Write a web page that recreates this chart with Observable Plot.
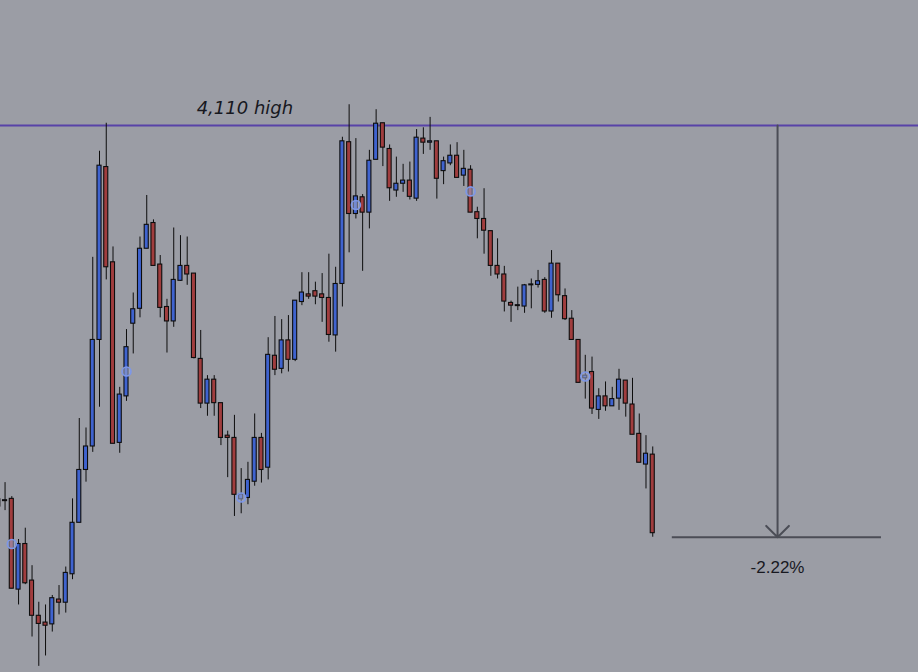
<!DOCTYPE html>
<html>
<head>
<meta charset="utf-8">
<script src="https://cdn.jsdelivr.net/npm/d3@7"></script>
<script src="https://cdn.jsdelivr.net/npm/@observablehq/plot@0.6"></script>
<style>
  html, body { margin: 0; padding: 0; background: #9b9da5; overflow: hidden; }
  #chart svg { display: block; }
</style>
</head>
<body>
<div id="chart"></div>
<script>
// Bar numbers (first bar is partly cut off at the left edge)
const bars = d3.range(-1, 97);

const opens = [4027.2,4026.8,4027.3,4007.2,4017.3,4009.2,4001.4,3999.9,3999.5,4005.0,4004.3,4010.6,4022.0,4033.7,4038.9,4062.5,4100.8,4079.7,4039.7,4050.0,
  4066.1,4069.4,4082.7,4088.4,4079.2,4069.8,4066.6,4075.6,4078.9,4077.2,4058.3,4048.4,4053.7,4048.5,4041.3,4040.8,4027.2,4027.5,4031.1,4040.8,
  4034.2,4059.0,4056.1,4062.4,4058.1,4070.9,4072.6,4073.3,4072.6,4071.8,4063.5,4074.9,4106.3,4090.4,4094.1,4090.7,4102.4,4110.5,4104.8,4095.6,
  4097.1,4097.8,4093.8,4107.1,4106.2,4106.5,4099.9,4101.6,4103.3,4098.9,4100.2,4090.8,4089.3,4086.6,4078.9,4077.0,4070.7,4070.0,4069.9,4074.6,
  4074.7,4075.8,4068.8,4079.4,4072.2,4067.2,4062.5,4054.0,4055.4,4047.0,4050.0,4047.8,4049.5,4053.5,4048.2,4041.7,4034.9,4037.1];

const highs = [4027.4,4030.9,4027.8,4018.3,4020.8,4012.5,4004.4,4003.8,4005.9,4008.1,4012.2,4027.3,4045.1,4043.0,4080.8,4104.3,4110.5,4083.1,4052.0,4064.8,
  4072.9,4085.3,4094.5,4089.1,4081.2,4071.5,4087.3,4085.6,4085.3,4077.2,4064.6,4054.6,4054.6,4048.5,4042.3,4045.8,4034.0,4035.4,4046.1,4041.8,
  4063.0,4067.7,4067.0,4067.9,4071.2,4077.4,4077.4,4075.3,4077.2,4081.5,4078.6,4107.4,4114.6,4107.1,4094.7,4104.5,4113.5,4110.5,4105.7,4103.0,
  4101.4,4101.9,4109.1,4109.5,4111.8,4106.5,4103.0,4105.7,4106.2,4104.5,4101.1,4091.9,4096.0,4086.6,4084.9,4078.8,4071.1,4074.2,4074.8,4076.0,
  4077.9,4076.3,4082.3,4079.4,4073.8,4069.0,4062.5,4059.1,4058.7,4051.7,4053.2,4052.0,4056.0,4053.5,4054.0,4046.1,4041.3,4038.8];

const lows = [4021.9,4024.7,4007.4,4003.8,4008.3,3996.7,3990.2,3992.5,3997.8,4001.6,4002.0,4009.4,4022.0,4031.0,4037.6,4047.6,4075.8,4039.5,4037.4,4048.9,
  4059.4,4067.4,4082.7,4078.9,4067.4,4059.6,4065.3,4075.5,4074.6,4058.3,4047.3,4045.6,4045.6,4039.1,4032.0,4023.4,4024.0,4026.0,4030.1,4030.8,
  4031.5,4054.6,4055.0,4055.4,4057.7,4070.1,4071.5,4070.3,4066.4,4062.0,4059.8,4069.8,4081.8,4089.3,4077.7,4087.1,4102.4,4100.9,4093.2,4094.1,
  4095.2,4093.5,4093.2,4103.6,4104.5,4093.7,4096.9,4101.1,4098.4,4096.5,4090.7,4084.9,4081.5,4076.6,4076.0,4068.7,4066.4,4069.0,4068.4,4069.4,
  4074.0,4068.4,4067.3,4070.9,4066.8,4062.5,4053.0,4049.4,4046.0,4044.9,4046.7,4047.8,4046.9,4045.4,4041.5,4035.3,4029.5,4018.8];

const closes = [4025.6,4027.0,4007.4,4017.3,4008.6,4001.4,3999.6,3999.2,4005.3,4004.3,4010.9,4022.0,4033.7,4038.9,4062.5,4101.1,4078.6,4039.5,4050.4,4060.9,
  4069.3,4082.7,4088.0,4078.9,4069.6,4066.6,4075.8,4078.9,4077.0,4058.5,4048.4,4053.7,4048.5,4040.8,4040.8,4028.2,4028.3,4031.5,4040.8,4033.7,
  4059.2,4055.9,4062.4,4058.1,4071.2,4073.0,4072.1,4072.1,4071.8,4063.6,4074.9,4106.5,4090.4,4094.3,4090.7,4102.2,4110.4,4105.1,4096.1,4097.1,
  4097.8,4094.2,4107.3,4106.2,4106.5,4098.2,4102.1,4103.3,4098.4,4100.4,4090.7,4089.3,4086.7,4078.9,4077.0,4071.0,4070.1,4070.2,4074.6,4074.8,
  4075.5,4068.8,4079.4,4072.4,4067.1,4062.5,4053.0,4054.6,4047.3,4050.0,4047.8,4049.4,4053.7,4048.4,4041.5,4035.3,4037.3,4019.7];

// Session markers (circles)
const markerBars = [1, 18, 35, 52, 69, 86];
const markerValues = [4017.3, 4055.5, 4027.6, 4092.4, 4095.4, 4054.4];

// Annotations
const highLevel = 4110;
const highLabel = "4,110 high";
const highLabelBar = 28.4;
const dropBar = 114.5;
const dropLow = 4018.8;
const dropLineFrom = 98.9;
const dropLineTo = 129.9;
const dropLabel = "-2.22%";

const candles = bars.map((bar, k) => ({bar, open: opens[k], high: highs[k], low: lows[k], close: closes[k]}));
const markers = markerBars.map((bar, k) => ({bar, value: markerValues[k]}));

const upColor = "#3f63cf";
const downColor = "#a03d3e";
const ink = "#0d0d0d";

const chart = Plot.plot({
  width: 918,
  height: 672,
  margin: 0,
  x: {axis: null, domain: [-0.675, 135.39]},
  y: {axis: null, domain: [3988.84, 4137.69]},
  style: {background: "#9b9da5", overflow: "hidden"},
  marks: [
    Plot.ruleY([highLevel], {stroke: "#5843a8", strokeWidth: 2}),
    Plot.ruleX(candles, {x: "bar", y1: "low", y2: "high", stroke: ink, strokeWidth: 1}),
    Plot.rect(candles, {filter: d => d.close >= d.open, x1: d => d.bar - 0.3, x2: d => d.bar + 0.3, y1: "open", y2: "close", fill: upColor, stroke: ink, strokeWidth: 1.1}),
    Plot.rect(candles, {filter: d => d.close < d.open, x1: d => d.bar - 0.3, x2: d => d.bar + 0.3, y1: "open", y2: "close", fill: downColor, stroke: ink, strokeWidth: 1.1}),
    Plot.dot(markers, {x: "bar", y: "value", r: 4.5, stroke: "#7d97e8", strokeWidth: 1.6, fill: "#a3acd2", fillOpacity: 0.55}),
    Plot.text([highLabel], {x: () => highLabelBar, y: () => highLevel, text: d => d, textAnchor: "start", dy: -17,
      fontSize: 18, fontStyle: "italic", fontFamily: "DejaVu Sans", fill: "#17181f"}),
    Plot.ruleY([dropLow], {x1: () => dropLineFrom, x2: () => dropLineTo, stroke: "#4b4d56", strokeWidth: 2}),
    Plot.arrow([0], {x1: () => dropBar, y1: () => highLevel, x2: () => dropBar, y2: () => dropLow,
      stroke: "#4b4d56", strokeWidth: 2, headAngle: 90, headLength: 12}),
    Plot.text([dropLabel], {x: () => dropBar, y: () => dropLow, text: d => d, dy: 30,
      fontSize: 17, fontFamily: "Liberation Sans", fill: "#17181f"})
  ]
});

document.getElementById("chart").appendChild(chart);
</script>
</body>
</html>
